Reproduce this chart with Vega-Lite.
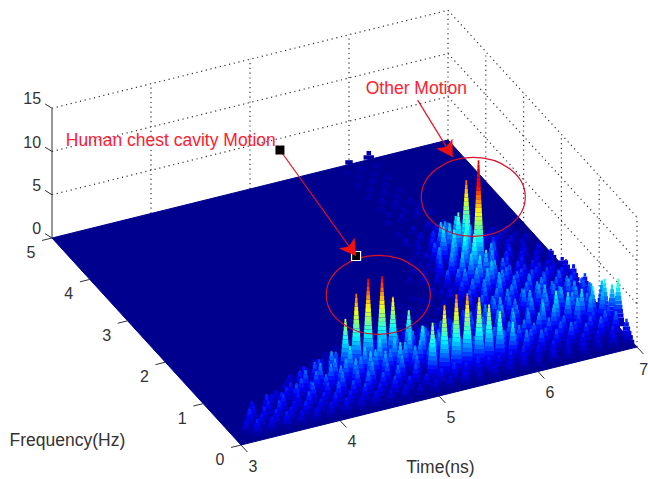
{"$schema":"https://vega.github.io/schema/vega-lite/v6.json","width":648,"height":479,"padding":0,"autosize":{"type":"none"},"background":"white","config":{"view":{"stroke":null}},
"data":{"values":[
{"kind":"floor","seq":1,"time":3,"freq":5,"amp":0},{"kind":"floor","seq":2,"time":3,"freq":0,"amp":0},{"kind":"floor","seq":3,"time":7,"freq":0,"amp":0},{"kind":"floor","seq":4,"time":7,"freq":5,"amp":0},{"kind":"floor","seq":5,"time":3,"freq":5,"amp":0},
{"kind":"grid","id":"b5","time":3,"freq":5,"amp":5},{"kind":"grid","id":"b5","time":7,"freq":5,"amp":5},{"kind":"grid","id":"b10","time":3,"freq":5,"amp":10},{"kind":"grid","id":"b10","time":7,"freq":5,"amp":10},{"kind":"grid","id":"b15","time":3,"freq":5,"amp":15},{"kind":"grid","id":"b15","time":7,"freq":5,"amp":15},
{"kind":"grid","id":"c5","time":7,"freq":5,"amp":5},{"kind":"grid","id":"c5","time":7,"freq":0,"amp":5},{"kind":"grid","id":"c10","time":7,"freq":5,"amp":10},{"kind":"grid","id":"c10","time":7,"freq":0,"amp":10},{"kind":"grid","id":"c15","time":7,"freq":5,"amp":15},{"kind":"grid","id":"c15","time":7,"freq":0,"amp":15},
{"kind":"grid","id":"v4","time":4,"freq":5,"amp":0},{"kind":"grid","id":"v4","time":4,"freq":5,"amp":15},{"kind":"grid","id":"v5","time":5,"freq":5,"amp":0},{"kind":"grid","id":"v5","time":5,"freq":5,"amp":15},{"kind":"grid","id":"v6","time":6,"freq":5,"amp":0},{"kind":"grid","id":"v6","time":6,"freq":5,"amp":15},{"kind":"grid","id":"v7","time":7,"freq":5,"amp":0},{"kind":"grid","id":"v7","time":7,"freq":5,"amp":15},
{"kind":"grid","id":"w0","time":7,"freq":0,"amp":0},{"kind":"grid","id":"w0","time":7,"freq":0,"amp":15},{"kind":"grid","id":"w1","time":7,"freq":1,"amp":0},{"kind":"grid","id":"w1","time":7,"freq":1,"amp":15},{"kind":"grid","id":"w2","time":7,"freq":2,"amp":0},{"kind":"grid","id":"w2","time":7,"freq":2,"amp":15},{"kind":"grid","id":"w3","time":7,"freq":3,"amp":0},{"kind":"grid","id":"w3","time":7,"freq":3,"amp":15},{"kind":"grid","id":"w4","time":7,"freq":4,"amp":0},{"kind":"grid","id":"w4","time":7,"freq":4,"amp":15},
{"kind":"axis","id":"z","time":3,"freq":5,"amp":0},{"kind":"axis","id":"z","time":3,"freq":5,"amp":15},
{"kind":"axis","id":"z0","time":3,"freq":5,"amp":0},{"kind":"axis","id":"z0","time":2.93,"freq":5,"amp":0.7},{"kind":"axis","id":"z5","time":3,"freq":5,"amp":5},{"kind":"axis","id":"z5","time":2.93,"freq":5,"amp":5.7},{"kind":"axis","id":"z10","time":3,"freq":5,"amp":10},{"kind":"axis","id":"z10","time":2.93,"freq":5,"amp":10.7},{"kind":"axis","id":"z15","time":3,"freq":5,"amp":15},{"kind":"axis","id":"z15","time":2.93,"freq":5,"amp":15.7},
{"kind":"axis","id":"t3","time":3,"freq":0,"amp":0},{"kind":"axis","id":"t3","time":3,"freq":-0.17,"amp":0},{"kind":"axis","id":"t4","time":4,"freq":0,"amp":0},{"kind":"axis","id":"t4","time":4,"freq":-0.17,"amp":0},{"kind":"axis","id":"t5","time":5,"freq":0,"amp":0},{"kind":"axis","id":"t5","time":5,"freq":-0.17,"amp":0},{"kind":"axis","id":"t6","time":6,"freq":0,"amp":0},{"kind":"axis","id":"t6","time":6,"freq":-0.17,"amp":0},{"kind":"axis","id":"t7","time":7,"freq":0,"amp":0},{"kind":"axis","id":"t7","time":7,"freq":-0.17,"amp":0},
{"kind":"axis","id":"f0","time":3,"freq":0,"amp":0},{"kind":"axis","id":"f0","time":2.9,"freq":0,"amp":0},{"kind":"axis","id":"f1","time":3,"freq":1,"amp":0},{"kind":"axis","id":"f1","time":2.9,"freq":1,"amp":0},{"kind":"axis","id":"f2","time":3,"freq":2,"amp":0},{"kind":"axis","id":"f2","time":2.9,"freq":2,"amp":0},{"kind":"axis","id":"f3","time":3,"freq":3,"amp":0},{"kind":"axis","id":"f3","time":2.9,"freq":3,"amp":0},{"kind":"axis","id":"f4","time":3,"freq":4,"amp":0},{"kind":"axis","id":"f4","time":2.9,"freq":4,"amp":0},{"kind":"axis","id":"f5","time":3,"freq":5,"amp":0},{"kind":"axis","id":"f5","time":2.9,"freq":5,"amp":0},
{"kind":"zlabel","label":"0","time":2.89,"freq":5,"amp":1.35},{"kind":"zlabel","label":"5","time":2.89,"freq":5,"amp":6.35},{"kind":"zlabel","label":"10","time":2.89,"freq":5,"amp":11.35},{"kind":"zlabel","label":"15","time":2.89,"freq":5,"amp":16.35},
{"kind":"tlabel","label":"3","time":2.933,"freq":-0.49,"amp":0},{"kind":"tlabel","label":"4","time":3.933,"freq":-0.49,"amp":0},{"kind":"tlabel","label":"5","time":4.933,"freq":-0.49,"amp":0},{"kind":"tlabel","label":"6","time":5.933,"freq":-0.49,"amp":0},{"kind":"tlabel","label":"7","time":6.88,"freq":-0.49,"amp":0},
{"kind":"tlabel","label":"0","time":2.714,"freq":-0.193,"amp":0},{"kind":"tlabel","label":"1","time":2.714,"freq":0.807,"amp":0},{"kind":"tlabel","label":"2","time":2.714,"freq":1.807,"amp":0},{"kind":"tlabel","label":"3","time":2.714,"freq":2.807,"amp":0},{"kind":"tlabel","label":"4","time":2.714,"freq":3.807,"amp":0},{"kind":"tlabel","label":"5","time":2.714,"freq":4.807,"amp":0},
{"kind":"title","label":"Frequency(Hz)","time":1.6,"freq":0.927,"amp":0},{"kind":"title","label":"Time(ns)","time":4.47,"freq":-1.424,"amp":0},
{"kind":"note","label":"Human chest cavity Motion","time":4.2,"freq":5,"amp":7.8},{"kind":"note","label":"Other Motion","time":6.68,"freq":5,"amp":6.8},
{"kind":"arrow","id":"a","time":5.54,"freq":5.622,"amp":0},{"kind":"arrow","id":"a","time":5.37,"freq":3.163,"amp":0},{"kind":"arrow","id":"b","time":7.05,"freq":5.934,"amp":0},{"kind":"arrow","id":"b","time":6.91,"freq":4.641,"amp":0},
{"kind":"heada","time":5.37,"freq":3.163,"amp":0},{"kind":"headb","time":6.91,"freq":4.641,"amp":0},
{"kind":"start","time":5.54,"freq":5.622,"amp":0},{"kind":"end","time":5.37,"freq":3.163,"amp":0},
{"kind":"ring","time":5.26,"freq":2.287,"amp":0},{"kind":"ring","time":6.78,"freq":3.755,"amp":0},

{"kind":"spike","time":6.0,"freq":5,"amp":0.5},{"kind":"spike","time":6.2,"freq":5,"amp":1.0},
{"kind":"spike","time":5.9,"freq":4.8,"amp":0.5},{"kind":"spike","time":6.05,"freq":4.8,"amp":0.6},{"kind":"spike","time":6.2,"freq":4.8,"amp":0.6},
{"kind":"spike","time":5.9,"freq":4.5,"amp":0.6},{"kind":"spike","time":6.05,"freq":4.5,"amp":0.7},{"kind":"spike","time":6.2,"freq":4.5,"amp":0.6},
{"kind":"spike","time":5.9,"freq":4.2,"amp":0.7},{"kind":"spike","time":6.05,"freq":4.2,"amp":0.8},{"kind":"spike","time":6.2,"freq":4.2,"amp":0.7},
{"kind":"spike","time":5.9,"freq":3.9,"amp":0.7},{"kind":"spike","time":6.05,"freq":3.9,"amp":0.9},{"kind":"spike","time":6.2,"freq":3.9,"amp":0.8},
{"kind":"spike","time":5.85,"freq":3.6,"amp":0.7},{"kind":"spike","time":6.0,"freq":3.6,"amp":0.9},{"kind":"spike","time":6.15,"freq":3.6,"amp":1.0},{"kind":"spike","time":6.3,"freq":3.6,"amp":0.7},
{"kind":"spike","time":5.85,"freq":3.3,"amp":0.8},{"kind":"spike","time":6.0,"freq":3.3,"amp":1.0},{"kind":"spike","time":6.15,"freq":3.3,"amp":1.2},{"kind":"spike","time":6.3,"freq":3.3,"amp":0.9},{"kind":"spike","time":6.45,"freq":3.3,"amp":0.7},
{"kind":"spike","time":5.85,"freq":3.1,"amp":1.0},{"kind":"spike","time":6.0,"freq":3.1,"amp":1.3},{"kind":"spike","time":6.15,"freq":3.1,"amp":1.8},{"kind":"spike","time":6.3,"freq":3.1,"amp":1.4},{"kind":"spike","time":6.45,"freq":3.1,"amp":1.0},{"kind":"spike","time":6.6,"freq":3.1,"amp":0.8},
{"kind":"spike","time":5.9,"freq":2.9,"amp":1.0},{"kind":"spike","time":6.05,"freq":2.9,"amp":2.2},{"kind":"spike","time":6.2,"freq":2.9,"amp":2.8},{"kind":"spike","time":6.35,"freq":2.9,"amp":2.0},{"kind":"spike","time":6.5,"freq":2.9,"amp":1.2},{"kind":"spike","time":6.65,"freq":2.9,"amp":1.0},{"kind":"spike","time":6.8,"freq":2.9,"amp":0.8},
{"kind":"spike","time":5.75,"freq":2.7,"amp":0.8},{"kind":"spike","time":5.9,"freq":2.7,"amp":1.2},{"kind":"spike","time":6.05,"freq":2.7,"amp":4.2},{"kind":"spike","time":6.2,"freq":2.7,"amp":4.5},{"kind":"spike","time":6.35,"freq":2.7,"amp":3.0},{"kind":"spike","time":6.5,"freq":2.7,"amp":1.6},{"kind":"spike","time":6.65,"freq":2.7,"amp":1.3},{"kind":"spike","time":6.8,"freq":2.7,"amp":1.0},
{"kind":"spike","time":5.7,"freq":2.5,"amp":0.8},{"kind":"spike","time":5.85,"freq":2.5,"amp":1.0},{"kind":"spike","time":6.0,"freq":2.5,"amp":4.8},{"kind":"spike","time":6.15,"freq":2.5,"amp":6.0},{"kind":"spike","time":6.23,"freq":2.5,"amp":9.5},{"kind":"spike","time":6.35,"freq":2.5,"amp":4.0},{"kind":"spike","time":6.5,"freq":2.5,"amp":2.2},{"kind":"spike","time":6.65,"freq":2.5,"amp":1.5},{"kind":"spike","time":6.8,"freq":2.5,"amp":1.2},
{"kind":"spike","time":5.6,"freq":2.35,"amp":0.8},{"kind":"spike","time":5.75,"freq":2.35,"amp":1.2},{"kind":"spike","time":5.9,"freq":2.35,"amp":3.4},{"kind":"spike","time":6.05,"freq":2.35,"amp":5.0},{"kind":"spike","time":6.18,"freq":2.35,"amp":6.0},{"kind":"spike","time":6.3,"freq":2.35,"amp":4.5},{"kind":"spike","time":6.45,"freq":2.35,"amp":2.6},{"kind":"spike","time":6.6,"freq":2.35,"amp":1.8},{"kind":"spike","time":6.75,"freq":2.35,"amp":1.4},{"kind":"spike","time":6.9,"freq":2.35,"amp":1.2},
{"kind":"spike","time":5.8,"freq":2.15,"amp":1.5},{"kind":"spike","time":5.95,"freq":2.15,"amp":3.6},{"kind":"spike","time":6.08,"freq":2.15,"amp":5.5},{"kind":"spike","time":6.22,"freq":2.15,"amp":13.5},{"kind":"spike","time":6.35,"freq":2.15,"amp":3.6},{"kind":"spike","time":6.5,"freq":2.15,"amp":2.2},{"kind":"spike","time":6.65,"freq":2.15,"amp":1.8},{"kind":"spike","time":6.8,"freq":2.15,"amp":1.4},{"kind":"spike","time":6.95,"freq":2.15,"amp":1.2},
{"kind":"spike","time":5.3,"freq":2.0,"amp":0.5},{"kind":"spike","time":5.5,"freq":2.0,"amp":0.6},{"kind":"spike","time":5.7,"freq":2.0,"amp":1.0},{"kind":"spike","time":5.85,"freq":2.0,"amp":2.6},{"kind":"spike","time":6.0,"freq":2.0,"amp":4.2},{"kind":"spike","time":6.12,"freq":2.0,"amp":6.0},{"kind":"spike","time":6.3,"freq":2.0,"amp":3.6},{"kind":"spike","time":6.45,"freq":2.0,"amp":2.4},{"kind":"spike","time":6.6,"freq":2.0,"amp":2.0},{"kind":"spike","time":6.75,"freq":2.0,"amp":1.6},{"kind":"spike","time":6.9,"freq":2.0,"amp":1.3},
{"kind":"spike","time":5.0,"freq":1.8,"amp":0.5},{"kind":"spike","time":5.2,"freq":1.8,"amp":0.5},{"kind":"spike","time":5.4,"freq":1.8,"amp":0.6},{"kind":"spike","time":5.6,"freq":1.8,"amp":0.8},{"kind":"spike","time":5.8,"freq":1.8,"amp":1.6},{"kind":"spike","time":5.95,"freq":1.8,"amp":3.4},{"kind":"spike","time":6.1,"freq":1.8,"amp":4.6},{"kind":"spike","time":6.25,"freq":1.8,"amp":3.6},{"kind":"spike","time":6.4,"freq":1.8,"amp":2.6},{"kind":"spike","time":6.55,"freq":1.8,"amp":2.2},{"kind":"spike","time":6.7,"freq":1.8,"amp":2.0},{"kind":"spike","time":6.85,"freq":1.8,"amp":1.6},{"kind":"spike","time":6.97,"freq":1.8,"amp":1.6},
{"kind":"spike","time":4.8,"freq":1.6,"amp":0.5},{"kind":"spike","time":5.0,"freq":1.6,"amp":0.6},{"kind":"spike","time":5.2,"freq":1.6,"amp":0.6},{"kind":"spike","time":5.4,"freq":1.6,"amp":0.7},{"kind":"spike","time":5.6,"freq":1.6,"amp":0.9},{"kind":"spike","time":5.8,"freq":1.6,"amp":1.8},{"kind":"spike","time":5.95,"freq":1.6,"amp":3.2},{"kind":"spike","time":6.1,"freq":1.6,"amp":4.0},{"kind":"spike","time":6.25,"freq":1.6,"amp":3.4},{"kind":"spike","time":6.4,"freq":1.6,"amp":2.8},{"kind":"spike","time":6.55,"freq":1.6,"amp":2.6},{"kind":"spike","time":6.7,"freq":1.6,"amp":2.4},{"kind":"spike","time":6.85,"freq":1.6,"amp":2.0},{"kind":"spike","time":6.97,"freq":1.6,"amp":2.0},
{"kind":"spike","time":4.5,"freq":1.4,"amp":0.6},{"kind":"spike","time":4.7,"freq":1.4,"amp":0.7},{"kind":"spike","time":4.9,"freq":1.4,"amp":0.7},{"kind":"spike","time":5.1,"freq":1.4,"amp":0.7},{"kind":"spike","time":5.3,"freq":1.4,"amp":0.8},{"kind":"spike","time":5.5,"freq":1.4,"amp":0.8},{"kind":"spike","time":5.7,"freq":1.4,"amp":1.2},{"kind":"spike","time":5.85,"freq":1.4,"amp":2.2},{"kind":"spike","time":6.0,"freq":1.4,"amp":3.0},{"kind":"spike","time":6.15,"freq":1.4,"amp":3.6},{"kind":"spike","time":6.3,"freq":1.4,"amp":3.0},{"kind":"spike","time":6.45,"freq":1.4,"amp":3.2},{"kind":"spike","time":6.6,"freq":1.4,"amp":2.8},{"kind":"spike","time":6.75,"freq":1.4,"amp":2.8},{"kind":"spike","time":6.9,"freq":1.4,"amp":2.2},
{"kind":"spike","time":4.2,"freq":1.2,"amp":0.8},{"kind":"spike","time":4.35,"freq":1.2,"amp":1.0},{"kind":"spike","time":4.5,"freq":1.2,"amp":1.2},{"kind":"spike","time":4.65,"freq":1.2,"amp":1.1},{"kind":"spike","time":4.8,"freq":1.2,"amp":1.3},{"kind":"spike","time":4.95,"freq":1.2,"amp":1.2},{"kind":"spike","time":5.1,"freq":1.2,"amp":1.5},{"kind":"spike","time":5.25,"freq":1.2,"amp":1.4},{"kind":"spike","time":5.4,"freq":1.2,"amp":1.6},{"kind":"spike","time":5.55,"freq":1.2,"amp":1.8},{"kind":"spike","time":5.7,"freq":1.2,"amp":2.2},{"kind":"spike","time":5.85,"freq":1.2,"amp":2.6},{"kind":"spike","time":6.0,"freq":1.2,"amp":3.0},{"kind":"spike","time":6.15,"freq":1.2,"amp":3.4},{"kind":"spike","time":6.3,"freq":1.2,"amp":3.0},{"kind":"spike","time":6.45,"freq":1.2,"amp":3.4},{"kind":"spike","time":6.6,"freq":1.2,"amp":3.0},{"kind":"spike","time":6.75,"freq":1.2,"amp":3.2},{"kind":"spike","time":6.9,"freq":1.2,"amp":2.6},
{"kind":"spike","time":3.9,"freq":1.0,"amp":0.8},{"kind":"spike","time":4.05,"freq":1.0,"amp":1.2},{"kind":"spike","time":4.2,"freq":1.0,"amp":1.8},{"kind":"spike","time":4.35,"freq":1.0,"amp":2.0},{"kind":"spike","time":4.5,"freq":1.0,"amp":2.4},{"kind":"spike","time":4.65,"freq":1.0,"amp":2.2},{"kind":"spike","time":4.8,"freq":1.0,"amp":2.6},{"kind":"spike","time":4.95,"freq":1.0,"amp":2.4},{"kind":"spike","time":5.1,"freq":1.0,"amp":2.6},{"kind":"spike","time":5.25,"freq":1.0,"amp":2.4},{"kind":"spike","time":5.4,"freq":1.0,"amp":2.8},{"kind":"spike","time":5.55,"freq":1.0,"amp":2.6},{"kind":"spike","time":5.7,"freq":1.0,"amp":3.0},{"kind":"spike","time":5.85,"freq":1.0,"amp":3.4},{"kind":"spike","time":6.0,"freq":1.0,"amp":3.8},{"kind":"spike","time":6.15,"freq":1.0,"amp":3.2},{"kind":"spike","time":6.3,"freq":1.0,"amp":3.8},{"kind":"spike","time":6.45,"freq":1.0,"amp":4.0},{"kind":"spike","time":6.6,"freq":1.0,"amp":3.4},{"kind":"spike","time":6.75,"freq":1.0,"amp":3.6},{"kind":"spike","time":6.9,"freq":1.0,"amp":3.0},
{"kind":"spike","time":3.75,"freq":0.8,"amp":1.2},{"kind":"spike","time":3.9,"freq":0.8,"amp":2.2},{"kind":"spike","time":4.05,"freq":0.8,"amp":2.8},{"kind":"spike","time":4.22,"freq":0.8,"amp":3.6},{"kind":"spike","time":4.36,"freq":0.8,"amp":6.9},{"kind":"spike","time":4.47,"freq":0.8,"amp":9.5},{"kind":"spike","time":4.59,"freq":0.8,"amp":10.9},{"kind":"spike","time":4.73,"freq":0.8,"amp":10.8},{"kind":"spike","time":4.84,"freq":0.8,"amp":8.1},{"kind":"spike","time":5.0,"freq":0.8,"amp":6.1},{"kind":"spike","time":5.15,"freq":0.8,"amp":3.8},{"kind":"spike","time":5.3,"freq":0.8,"amp":3.0},{"kind":"spike","time":5.45,"freq":0.8,"amp":3.4},{"kind":"spike","time":5.6,"freq":0.8,"amp":3.0},{"kind":"spike","time":5.75,"freq":0.8,"amp":3.2},{"kind":"spike","time":5.9,"freq":0.8,"amp":3.6},{"kind":"spike","time":6.05,"freq":0.8,"amp":3.4},{"kind":"spike","time":6.2,"freq":0.8,"amp":3.0},{"kind":"spike","time":6.35,"freq":0.8,"amp":3.6},{"kind":"spike","time":6.5,"freq":0.8,"amp":3.2},{"kind":"spike","time":6.65,"freq":0.8,"amp":3.5},{"kind":"spike","time":6.8,"freq":0.8,"amp":3.0},{"kind":"spike","time":6.95,"freq":0.8,"amp":4.0},
{"kind":"spike","time":3.6,"freq":0.65,"amp":1.5},{"kind":"spike","time":3.75,"freq":0.65,"amp":2.0},{"kind":"spike","time":3.9,"freq":0.65,"amp":3.0},{"kind":"spike","time":4.05,"freq":0.65,"amp":3.4},{"kind":"spike","time":4.2,"freq":0.65,"amp":3.5},{"kind":"spike","time":4.35,"freq":0.65,"amp":4.5},{"kind":"spike","time":4.5,"freq":0.65,"amp":4.0},{"kind":"spike","time":4.65,"freq":0.65,"amp":4.5},{"kind":"spike","time":4.8,"freq":0.65,"amp":4.2},{"kind":"spike","time":4.95,"freq":0.65,"amp":4.4},{"kind":"spike","time":5.08,"freq":0.65,"amp":4.8},{"kind":"spike","time":5.25,"freq":0.65,"amp":3.5},{"kind":"spike","time":5.4,"freq":0.65,"amp":3.2},{"kind":"spike","time":5.55,"freq":0.65,"amp":3.6},{"kind":"spike","time":5.7,"freq":0.65,"amp":3.2},{"kind":"spike","time":5.85,"freq":0.65,"amp":3.4},{"kind":"spike","time":6.0,"freq":0.65,"amp":3.8},{"kind":"spike","time":6.15,"freq":0.65,"amp":3.4},{"kind":"spike","time":6.3,"freq":0.65,"amp":4.0},{"kind":"spike","time":6.43,"freq":0.65,"amp":5.0},{"kind":"spike","time":6.55,"freq":0.65,"amp":4.5},{"kind":"spike","time":6.69,"freq":0.65,"amp":4.5},{"kind":"spike","time":6.8,"freq":0.65,"amp":4.5},{"kind":"spike","time":6.92,"freq":0.65,"amp":5.0},{"kind":"spike","time":7.0,"freq":0.5,"amp":5.5},
{"kind":"spike","time":3.3,"freq":0.5,"amp":1.8},{"kind":"spike","time":3.45,"freq":0.5,"amp":2.2},{"kind":"spike","time":3.6,"freq":0.5,"amp":2.0},{"kind":"spike","time":3.75,"freq":0.5,"amp":2.6},{"kind":"spike","time":3.9,"freq":0.5,"amp":2.4},{"kind":"spike","time":4.05,"freq":0.5,"amp":2.8},{"kind":"spike","time":4.2,"freq":0.5,"amp":3.4},{"kind":"spike","time":4.35,"freq":0.5,"amp":3.8},{"kind":"spike","time":4.5,"freq":0.5,"amp":4.2},{"kind":"spike","time":4.65,"freq":0.5,"amp":3.8},{"kind":"spike","time":4.8,"freq":0.5,"amp":4.4},{"kind":"spike","time":4.95,"freq":0.5,"amp":3.6},{"kind":"spike","time":5.1,"freq":0.5,"amp":3.6},{"kind":"spike","time":5.25,"freq":0.5,"amp":3.2},{"kind":"spike","time":5.4,"freq":0.5,"amp":3.4},{"kind":"spike","time":5.55,"freq":0.5,"amp":3.0},{"kind":"spike","time":5.7,"freq":0.5,"amp":3.2},{"kind":"spike","time":5.85,"freq":0.5,"amp":2.8},{"kind":"spike","time":6.0,"freq":0.5,"amp":3.0},{"kind":"spike","time":6.15,"freq":0.5,"amp":2.8},{"kind":"spike","time":6.3,"freq":0.5,"amp":3.0},{"kind":"spike","time":6.45,"freq":0.5,"amp":2.8},{"kind":"spike","time":6.6,"freq":0.5,"amp":2.6},{"kind":"spike","time":6.75,"freq":0.5,"amp":2.4},{"kind":"spike","time":6.9,"freq":0.5,"amp":2.6},
{"kind":"spike","time":3.2,"freq":0.3,"amp":2.2},{"kind":"spike","time":3.35,"freq":0.3,"amp":2.0},{"kind":"spike","time":3.5,"freq":0.3,"amp":2.3},{"kind":"spike","time":3.65,"freq":0.3,"amp":1.8},{"kind":"spike","time":3.8,"freq":0.3,"amp":2.5},{"kind":"spike","time":3.95,"freq":0.3,"amp":2.0},{"kind":"spike","time":4.1,"freq":0.3,"amp":2.8},{"kind":"spike","time":4.25,"freq":0.3,"amp":2.5},{"kind":"spike","time":4.4,"freq":0.3,"amp":3.2},{"kind":"spike","time":4.55,"freq":0.3,"amp":2.6},{"kind":"spike","time":4.7,"freq":0.3,"amp":3.0},{"kind":"spike","time":4.88,"freq":0.3,"amp":2.6},{"kind":"spike","time":5.05,"freq":0.3,"amp":6.9},{"kind":"spike","time":5.17,"freq":0.3,"amp":8.6},{"kind":"spike","time":5.29,"freq":0.3,"amp":9.5},{"kind":"spike","time":5.4,"freq":0.3,"amp":9.3},{"kind":"spike","time":5.52,"freq":0.3,"amp":8.5},{"kind":"spike","time":5.62,"freq":0.3,"amp":7.4},{"kind":"spike","time":5.73,"freq":0.3,"amp":6.3},{"kind":"spike","time":5.86,"freq":0.3,"amp":4.7},{"kind":"spike","time":6.0,"freq":0.3,"amp":3.4},{"kind":"spike","time":6.15,"freq":0.3,"amp":3.0},{"kind":"spike","time":6.3,"freq":0.3,"amp":2.6},{"kind":"spike","time":6.45,"freq":0.3,"amp":3.0},{"kind":"spike","time":6.6,"freq":0.3,"amp":2.5},{"kind":"spike","time":6.75,"freq":0.3,"amp":2.8},{"kind":"spike","time":6.9,"freq":0.3,"amp":3.0},
{"kind":"spike","time":3.2,"freq":0.1,"amp":2.0},{"kind":"spike","time":3.35,"freq":0.1,"amp":1.8},{"kind":"spike","time":3.5,"freq":0.1,"amp":2.0},{"kind":"spike","time":3.65,"freq":0.1,"amp":1.7},{"kind":"spike","time":3.8,"freq":0.1,"amp":1.6},{"kind":"spike","time":3.95,"freq":0.1,"amp":1.8},{"kind":"spike","time":4.1,"freq":0.1,"amp":1.9},{"kind":"spike","time":4.25,"freq":0.1,"amp":1.6},{"kind":"spike","time":4.4,"freq":0.1,"amp":1.8},{"kind":"spike","time":4.55,"freq":0.1,"amp":1.5},{"kind":"spike","time":4.7,"freq":0.1,"amp":1.7},{"kind":"spike","time":4.85,"freq":0.1,"amp":1.3},{"kind":"spike","time":5.0,"freq":0.1,"amp":1.5},{"kind":"spike","time":5.15,"freq":0.1,"amp":1.4},{"kind":"spike","time":5.3,"freq":0.1,"amp":1.6},{"kind":"spike","time":5.45,"freq":0.1,"amp":1.2},{"kind":"spike","time":5.6,"freq":0.1,"amp":1.5},{"kind":"spike","time":5.75,"freq":0.1,"amp":1.4},{"kind":"spike","time":5.9,"freq":0.1,"amp":1.6},{"kind":"spike","time":6.05,"freq":0.1,"amp":1.2},{"kind":"spike","time":6.2,"freq":0.1,"amp":1.5},{"kind":"spike","time":6.35,"freq":0.1,"amp":1.3},{"kind":"spike","time":6.5,"freq":0.1,"amp":1.5},{"kind":"spike","time":6.65,"freq":0.1,"amp":1.3},{"kind":"spike","time":6.8,"freq":0.1,"amp":1.6},{"kind":"spike","time":6.95,"freq":0.1,"amp":1.9},

{"kind":"spike","time":3.13,"freq":0.2,"amp":1.6},{"kind":"spike","time":3.28,"freq":0.2,"amp":1.8},{"kind":"spike","time":3.43,"freq":0.2,"amp":2.0},{"kind":"spike","time":3.58,"freq":0.2,"amp":1.8},{"kind":"spike","time":3.73,"freq":0.2,"amp":2.1},{"kind":"spike","time":3.88,"freq":0.2,"amp":1.9},{"kind":"spike","time":4.03,"freq":0.2,"amp":2.2},{"kind":"spike","time":4.18,"freq":0.2,"amp":2.0},{"kind":"spike","time":4.33,"freq":0.2,"amp":2.4},{"kind":"spike","time":4.48,"freq":0.2,"amp":2.0},{"kind":"spike","time":4.63,"freq":0.2,"amp":2.4},{"kind":"spike","time":4.78,"freq":0.2,"amp":2.0},{"kind":"spike","time":4.95,"freq":0.2,"amp":1.8},{"kind":"spike","time":5.1,"freq":0.2,"amp":2.0},{"kind":"spike","time":5.23,"freq":0.2,"amp":2.3},{"kind":"spike","time":5.35,"freq":0.2,"amp":2.0},{"kind":"spike","time":5.47,"freq":0.2,"amp":2.2},{"kind":"spike","time":5.58,"freq":0.2,"amp":2.0},{"kind":"spike","time":5.68,"freq":0.2,"amp":1.8},{"kind":"spike","time":5.8,"freq":0.2,"amp":2.0},{"kind":"spike","time":5.93,"freq":0.2,"amp":2.2},{"kind":"spike","time":6.08,"freq":0.2,"amp":1.8},{"kind":"spike","time":6.23,"freq":0.2,"amp":2.0},{"kind":"spike","time":6.38,"freq":0.2,"amp":1.7},{"kind":"spike","time":6.53,"freq":0.2,"amp":2.0},{"kind":"spike","time":6.68,"freq":0.2,"amp":1.8},{"kind":"spike","time":6.83,"freq":0.2,"amp":2.0},{"kind":"spike","time":6.97,"freq":0.2,"amp":2.4},
{"kind":"spike","time":3.28,"freq":0.4,"amp":1.8},{"kind":"spike","time":3.43,"freq":0.4,"amp":2.0},{"kind":"spike","time":3.58,"freq":0.4,"amp":2.3},{"kind":"spike","time":3.73,"freq":0.4,"amp":2.0},{"kind":"spike","time":3.88,"freq":0.4,"amp":2.8},{"kind":"spike","time":4.03,"freq":0.4,"amp":2.4},{"kind":"spike","time":4.18,"freq":0.4,"amp":3.2},{"kind":"spike","time":4.33,"freq":0.4,"amp":3.0},{"kind":"spike","time":4.48,"freq":0.4,"amp":3.5},{"kind":"spike","time":4.63,"freq":0.4,"amp":3.0},{"kind":"spike","time":4.78,"freq":0.4,"amp":3.4},{"kind":"spike","time":4.93,"freq":0.4,"amp":3.0},{"kind":"spike","time":5.1,"freq":0.4,"amp":3.4},{"kind":"spike","time":5.23,"freq":0.4,"amp":3.0},{"kind":"spike","time":5.35,"freq":0.4,"amp":3.6},{"kind":"spike","time":5.47,"freq":0.4,"amp":3.0},{"kind":"spike","time":5.58,"freq":0.4,"amp":3.2},{"kind":"spike","time":5.68,"freq":0.4,"amp":2.8},{"kind":"spike","time":5.8,"freq":0.4,"amp":3.0},{"kind":"spike","time":5.93,"freq":0.4,"amp":2.6},{"kind":"spike","time":6.08,"freq":0.4,"amp":2.8},{"kind":"spike","time":6.23,"freq":0.4,"amp":2.5},{"kind":"spike","time":6.38,"freq":0.4,"amp":2.8},{"kind":"spike","time":6.53,"freq":0.4,"amp":2.4},{"kind":"spike","time":6.68,"freq":0.4,"amp":2.6},{"kind":"spike","time":6.83,"freq":0.4,"amp":2.8},
{"kind":"spike","time":3.53,"freq":0.58,"amp":1.6},{"kind":"spike","time":3.68,"freq":0.58,"amp":2.0},{"kind":"spike","time":3.83,"freq":0.58,"amp":2.6},{"kind":"spike","time":3.98,"freq":0.58,"amp":3.0},{"kind":"spike","time":4.13,"freq":0.58,"amp":3.4},{"kind":"spike","time":4.28,"freq":0.58,"amp":3.6},{"kind":"spike","time":4.43,"freq":0.58,"amp":3.4},{"kind":"spike","time":4.58,"freq":0.58,"amp":3.8},{"kind":"spike","time":4.73,"freq":0.58,"amp":3.4},{"kind":"spike","time":4.88,"freq":0.58,"amp":3.8},{"kind":"spike","time":5.03,"freq":0.58,"amp":3.6},{"kind":"spike","time":5.18,"freq":0.58,"amp":3.4},{"kind":"spike","time":5.33,"freq":0.58,"amp":3.0},{"kind":"spike","time":5.48,"freq":0.58,"amp":3.2},{"kind":"spike","time":5.63,"freq":0.58,"amp":3.0},{"kind":"spike","time":5.78,"freq":0.58,"amp":3.0},{"kind":"spike","time":5.93,"freq":0.58,"amp":3.2},{"kind":"spike","time":6.08,"freq":0.58,"amp":3.0},{"kind":"spike","time":6.23,"freq":0.58,"amp":3.4},{"kind":"spike","time":6.38,"freq":0.58,"amp":3.8},{"kind":"spike","time":6.62,"freq":0.58,"amp":4.0},{"kind":"spike","time":6.75,"freq":0.58,"amp":3.8},{"kind":"spike","time":6.87,"freq":0.58,"amp":4.0},{"kind":"spike","time":6.97,"freq":0.58,"amp":4.6},
{"kind":"spike","time":3.83,"freq":0.9,"amp":1.4},{"kind":"spike","time":3.98,"freq":0.9,"amp":2.0},{"kind":"spike","time":4.13,"freq":0.9,"amp":2.4},{"kind":"spike","time":4.3,"freq":0.9,"amp":2.8},{"kind":"spike","time":4.42,"freq":0.9,"amp":3.0},{"kind":"spike","time":4.53,"freq":0.9,"amp":3.4},{"kind":"spike","time":4.66,"freq":0.9,"amp":3.2},{"kind":"spike","time":4.79,"freq":0.9,"amp":3.2},{"kind":"spike","time":4.92,"freq":0.9,"amp":3.0},{"kind":"spike","time":5.08,"freq":0.9,"amp":3.0},{"kind":"spike","time":5.23,"freq":0.9,"amp":2.6},{"kind":"spike","time":5.38,"freq":0.9,"amp":2.6},{"kind":"spike","time":5.53,"freq":0.9,"amp":2.8},{"kind":"spike","time":5.68,"freq":0.9,"amp":2.6},{"kind":"spike","time":5.83,"freq":0.9,"amp":3.0},{"kind":"spike","time":5.98,"freq":0.9,"amp":3.4},{"kind":"spike","time":6.13,"freq":0.9,"amp":3.0},{"kind":"spike","time":6.28,"freq":0.9,"amp":3.4},{"kind":"spike","time":6.43,"freq":0.9,"amp":3.4},{"kind":"spike","time":6.58,"freq":0.9,"amp":3.8},{"kind":"spike","time":6.73,"freq":0.9,"amp":3.4},{"kind":"spike","time":6.88,"freq":0.9,"amp":3.4},
{"kind":"spike","time":4.03,"freq":1.1,"amp":0.9},{"kind":"spike","time":4.18,"freq":1.1,"amp":1.3},{"kind":"spike","time":4.33,"freq":1.1,"amp":1.5},{"kind":"spike","time":4.48,"freq":1.1,"amp":1.8},{"kind":"spike","time":4.63,"freq":1.1,"amp":1.6},{"kind":"spike","time":4.78,"freq":1.1,"amp":1.8},{"kind":"spike","time":4.93,"freq":1.1,"amp":1.7},{"kind":"spike","time":5.08,"freq":1.1,"amp":1.9},{"kind":"spike","time":5.23,"freq":1.1,"amp":1.8},{"kind":"spike","time":5.38,"freq":1.1,"amp":2.1},{"kind":"spike","time":5.53,"freq":1.1,"amp":2.1},{"kind":"spike","time":5.68,"freq":1.1,"amp":2.6},{"kind":"spike","time":5.83,"freq":1.1,"amp":3.0},{"kind":"spike","time":5.98,"freq":1.1,"amp":3.2},{"kind":"spike","time":6.13,"freq":1.1,"amp":3.0},{"kind":"spike","time":6.28,"freq":1.1,"amp":3.4},{"kind":"spike","time":6.43,"freq":1.1,"amp":3.6},{"kind":"spike","time":6.58,"freq":1.1,"amp":3.2},{"kind":"spike","time":6.73,"freq":1.1,"amp":3.4},{"kind":"spike","time":6.88,"freq":1.1,"amp":2.8},
{"kind":"spike","time":4.35,"freq":1.3,"amp":0.7},{"kind":"spike","time":4.55,"freq":1.3,"amp":0.9},{"kind":"spike","time":4.75,"freq":1.3,"amp":1.0},{"kind":"spike","time":4.95,"freq":1.3,"amp":1.0},{"kind":"spike","time":5.15,"freq":1.3,"amp":1.0},{"kind":"spike","time":5.35,"freq":1.3,"amp":1.1},{"kind":"spike","time":5.55,"freq":1.3,"amp":1.2},{"kind":"spike","time":5.78,"freq":1.3,"amp":2.0},{"kind":"spike","time":5.93,"freq":1.3,"amp":2.8},{"kind":"spike","time":6.08,"freq":1.3,"amp":3.2},{"kind":"spike","time":6.23,"freq":1.3,"amp":3.2},{"kind":"spike","time":6.38,"freq":1.3,"amp":3.0},{"kind":"spike","time":6.53,"freq":1.3,"amp":3.2},{"kind":"spike","time":6.68,"freq":1.3,"amp":2.8},{"kind":"spike","time":6.83,"freq":1.3,"amp":2.6},{"kind":"spike","time":6.97,"freq":1.3,"amp":2.4},
{"kind":"spike","time":4.65,"freq":1.5,"amp":0.5},{"kind":"spike","time":4.85,"freq":1.5,"amp":0.6},{"kind":"spike","time":5.05,"freq":1.5,"amp":0.6},{"kind":"spike","time":5.25,"freq":1.5,"amp":0.7},{"kind":"spike","time":5.45,"freq":1.5,"amp":0.7},{"kind":"spike","time":5.65,"freq":1.5,"amp":1.0},{"kind":"spike","time":5.88,"freq":1.5,"amp":2.6},{"kind":"spike","time":6.03,"freq":1.5,"amp":3.4},{"kind":"spike","time":6.18,"freq":1.5,"amp":3.8},{"kind":"spike","time":6.33,"freq":1.5,"amp":3.0},{"kind":"spike","time":6.48,"freq":1.5,"amp":2.8},{"kind":"spike","time":6.63,"freq":1.5,"amp":2.6},{"kind":"spike","time":6.78,"freq":1.5,"amp":2.4},{"kind":"spike","time":6.93,"freq":1.5,"amp":2.0},
{"kind":"spike","time":4.9,"freq":1.7,"amp":0.5},{"kind":"spike","time":5.1,"freq":1.7,"amp":0.5},{"kind":"spike","time":5.3,"freq":1.7,"amp":0.6},{"kind":"spike","time":5.5,"freq":1.7,"amp":0.7},{"kind":"spike","time":5.7,"freq":1.7,"amp":1.0},{"kind":"spike","time":5.88,"freq":1.7,"amp":2.6},{"kind":"spike","time":6.03,"freq":1.7,"amp":3.8},{"kind":"spike","time":6.18,"freq":1.7,"amp":4.2},{"kind":"spike","time":6.33,"freq":1.7,"amp":3.0},{"kind":"spike","time":6.48,"freq":1.7,"amp":2.4},{"kind":"spike","time":6.63,"freq":1.7,"amp":2.2},{"kind":"spike","time":6.78,"freq":1.7,"amp":1.8},{"kind":"spike","time":6.93,"freq":1.7,"amp":1.8},
{"kind":"spike","time":5.15,"freq":1.9,"amp":0.5},{"kind":"spike","time":5.35,"freq":1.9,"amp":0.5},{"kind":"spike","time":5.55,"freq":1.9,"amp":0.7},{"kind":"spike","time":5.75,"freq":1.9,"amp":1.2},{"kind":"spike","time":5.92,"freq":1.9,"amp":3.0},{"kind":"spike","time":6.05,"freq":1.9,"amp":4.4},{"kind":"spike","time":6.2,"freq":1.9,"amp":4.4},{"kind":"spike","time":6.37,"freq":1.9,"amp":3.0},{"kind":"spike","time":6.52,"freq":1.9,"amp":2.2},{"kind":"spike","time":6.67,"freq":1.9,"amp":1.9},{"kind":"spike","time":6.82,"freq":1.9,"amp":1.5},{"kind":"spike","time":6.97,"freq":1.9,"amp":1.4},
{"kind":"spike","time":5.7,"freq":2.25,"amp":1.0},{"kind":"spike","time":5.87,"freq":2.25,"amp":2.6},{"kind":"spike","time":6.0,"freq":2.25,"amp":4.2},{"kind":"spike","time":6.13,"freq":2.25,"amp":5.2},{"kind":"spike","time":6.28,"freq":2.25,"amp":4.0},{"kind":"spike","time":6.42,"freq":2.25,"amp":2.6},{"kind":"spike","time":6.57,"freq":2.25,"amp":2.0},{"kind":"spike","time":6.72,"freq":2.25,"amp":1.5},{"kind":"spike","time":6.87,"freq":2.25,"amp":1.3},
{"kind":"spike","time":5.8,"freq":2.6,"amp":0.8},{"kind":"spike","time":5.95,"freq":2.6,"amp":2.6},{"kind":"spike","time":6.1,"freq":2.6,"amp":4.4},{"kind":"spike","time":6.27,"freq":2.6,"amp":4.0},{"kind":"spike","time":6.42,"freq":2.6,"amp":2.4},{"kind":"spike","time":6.57,"freq":2.6,"amp":1.6},{"kind":"spike","time":6.72,"freq":2.6,"amp":1.3},{"kind":"spike","time":6.87,"freq":2.6,"amp":1.1},
{"kind":"spike","time":5.85,"freq":2.8,"amp":0.9},{"kind":"spike","time":6.0,"freq":2.8,"amp":2.0},{"kind":"spike","time":6.13,"freq":2.8,"amp":3.6},{"kind":"spike","time":6.28,"freq":2.8,"amp":3.0},{"kind":"spike","time":6.43,"freq":2.8,"amp":1.8},{"kind":"spike","time":6.58,"freq":2.8,"amp":1.2},{"kind":"spike","time":6.73,"freq":2.8,"amp":1.0},
{"kind":"spike","time":5.93,"freq":3.0,"amp":1.0},{"kind":"spike","time":6.08,"freq":3.0,"amp":1.6},{"kind":"spike","time":6.23,"freq":3.0,"amp":2.0},{"kind":"spike","time":6.38,"freq":3.0,"amp":1.4},{"kind":"spike","time":6.53,"freq":3.0,"amp":1.0},
{"kind":"spike","time":5.93,"freq":3.75,"amp":0.7},{"kind":"spike","time":6.08,"freq":3.75,"amp":0.8},{"kind":"spike","time":6.23,"freq":3.75,"amp":0.8},
{"kind":"spike","time":5.97,"freq":4.05,"amp":0.8},{"kind":"spike","time":6.12,"freq":4.05,"amp":0.8},
{"kind":"spike","time":5.97,"freq":4.35,"amp":0.7},{"kind":"spike","time":6.12,"freq":4.35,"amp":0.7},
{"kind":"spike","time":5.97,"freq":4.65,"amp":0.6},{"kind":"spike","time":6.12,"freq":4.65,"amp":0.6}
]},
"transform":[
{"calculate":"241+99*(datum.time-3)-37.8*datum.freq","as":"sx"},
{"calculate":"445-24.5*(datum.time-3)-41.4*datum.freq","as":"sb"},
{"calculate":"datum.sb-8.65*datum.amp","as":"sy"}
],
"encoding":{
"x":{"field":"sx","type":"quantitative","scale":{"domain":[0,648],"nice":false,"zero":false},"axis":null},
"y":{"field":"sy","type":"quantitative","scale":{"domain":[479,0],"nice":false,"zero":false},"axis":null}
},
"layer":[
{"transform":[{"filter":"datum.kind=='grid'"}],"mark":{"type":"line","stroke":"#333333","strokeWidth":1.2,"strokeDash":[1.2,3.6],"clip":true},"encoding":{"detail":{"field":"id"}}},
{"transform":[{"filter":"datum.kind=='floor'"}],"mark":{"type":"line","fill":"#00008f","stroke":"#00008f","strokeWidth":1},"encoding":{"order":{"field":"seq","type":"quantitative"}}},
{"transform":[{"filter":"datum.kind=='axis'"}],"mark":{"type":"line","stroke":"#333333","strokeWidth":1},"encoding":{"detail":{"field":"id"}}},
{"transform":[
{"filter":"datum.kind=='spike'"},
{"calculate":"[0,0.5,1,1.5,2,2.5,3,3.5,4,4.5,5,5.5,6,6.5,7,7.5,8,8.5,9,9.5,10,10.5,11,11.5,12,12.5,13,13.5,14]","as":"level"},
{"flatten":["level"]},
{"filter":"datum.level<datum.amp"},
{"calculate":"min(datum.level+0.5,datum.amp)","as":"ztop"},
{"calculate":"(datum.level+datum.ztop)/2","as":"zmid"},
{"calculate":"datum.sb-8.65*datum.level","as":"ylo"},
{"calculate":"datum.sb-8.65*datum.ztop","as":"yhi"},
{"calculate":"1.5+12*(1-datum.zmid/datum.amp)","as":"w"},
{"calculate":"datum.sb+datum.level/100","as":"ord"}
],"mark":{"type":"rule","strokeCap":"butt"},"encoding":{
"y":{"field":"ylo","type":"quantitative","scale":{"domain":[479,0],"nice":false,"zero":false},"axis":null},
"y2":{"field":"yhi"},
"color":{"field":"zmid","type":"quantitative","legend":null,"scale":{"domain":[0,1.5,4.5,7.5,10.5,14],"range":["#00008f","#0000ff","#00ffff","#ffff00","#ff0000","#cc0000"],"interpolate":"rgb"}},
"strokeWidth":{"field":"w","type":"quantitative","scale":null},
"order":{"field":"ord","type":"quantitative"}
}},
{"transform":[{"filter":"datum.kind=='ring'"}],"mark":{"type":"point","shape":"M-1,0A1,0.76 0 1,0 1,0A1,0.76 0 1,0 -1,0Z","size":10816,"filled":false,"stroke":"#d8102a","strokeWidth":1.2,"opacity":1}},
{"transform":[{"filter":"datum.kind=='arrow'"}],"mark":{"type":"line","stroke":"#e81020","strokeWidth":1.2},"encoding":{"detail":{"field":"id"}}},
{"transform":[{"filter":"datum.kind=='start'"}],"mark":{"type":"square","size":81,"fill":"#000000","opacity":1}},
{"transform":[{"filter":"datum.kind=='end'"}],"mark":{"type":"square","size":81,"fill":"#000000","stroke":"#ffffff","strokeWidth":1.2,"opacity":1}},
{"transform":[{"filter":"datum.kind=='heada'"}],"mark":{"type":"point","shape":"M0,0L-0.6,-1L0,-0.75L0.6,-1Z","size":1024,"angle":-35.6,"filled":true,"fill":"#f01010","stroke":null,"opacity":1}},
{"transform":[{"filter":"datum.kind=='headb'"}],"mark":{"type":"point","shape":"M0,0L-0.6,-1L0,-0.75L0.6,-1Z","size":1024,"angle":-31.5,"filled":true,"fill":"#f01010","stroke":null,"opacity":1}},
{"transform":[{"filter":"datum.kind=='zlabel'"}],"mark":{"type":"text","align":"right","baseline":"middle","font":"Liberation Sans","fontSize":16,"fill":"#333333"},"encoding":{"text":{"field":"label"}}},
{"transform":[{"filter":"datum.kind=='tlabel'"}],"mark":{"type":"text","align":"center","baseline":"middle","font":"Liberation Sans","fontSize":16,"fill":"#333333"},"encoding":{"text":{"field":"label"}}},
{"transform":[{"filter":"datum.kind=='title'"}],"mark":{"type":"text","align":"center","baseline":"middle","font":"Liberation Sans","fontSize":17.5,"fill":"#333333"},"encoding":{"text":{"field":"label"}}},
{"transform":[{"filter":"datum.kind=='note'"}],"mark":{"type":"text","align":"center","baseline":"middle","font":"Liberation Sans","fontSize":17.5,"fill":"#ff2030"},"encoding":{"text":{"field":"label"}}}
]}
